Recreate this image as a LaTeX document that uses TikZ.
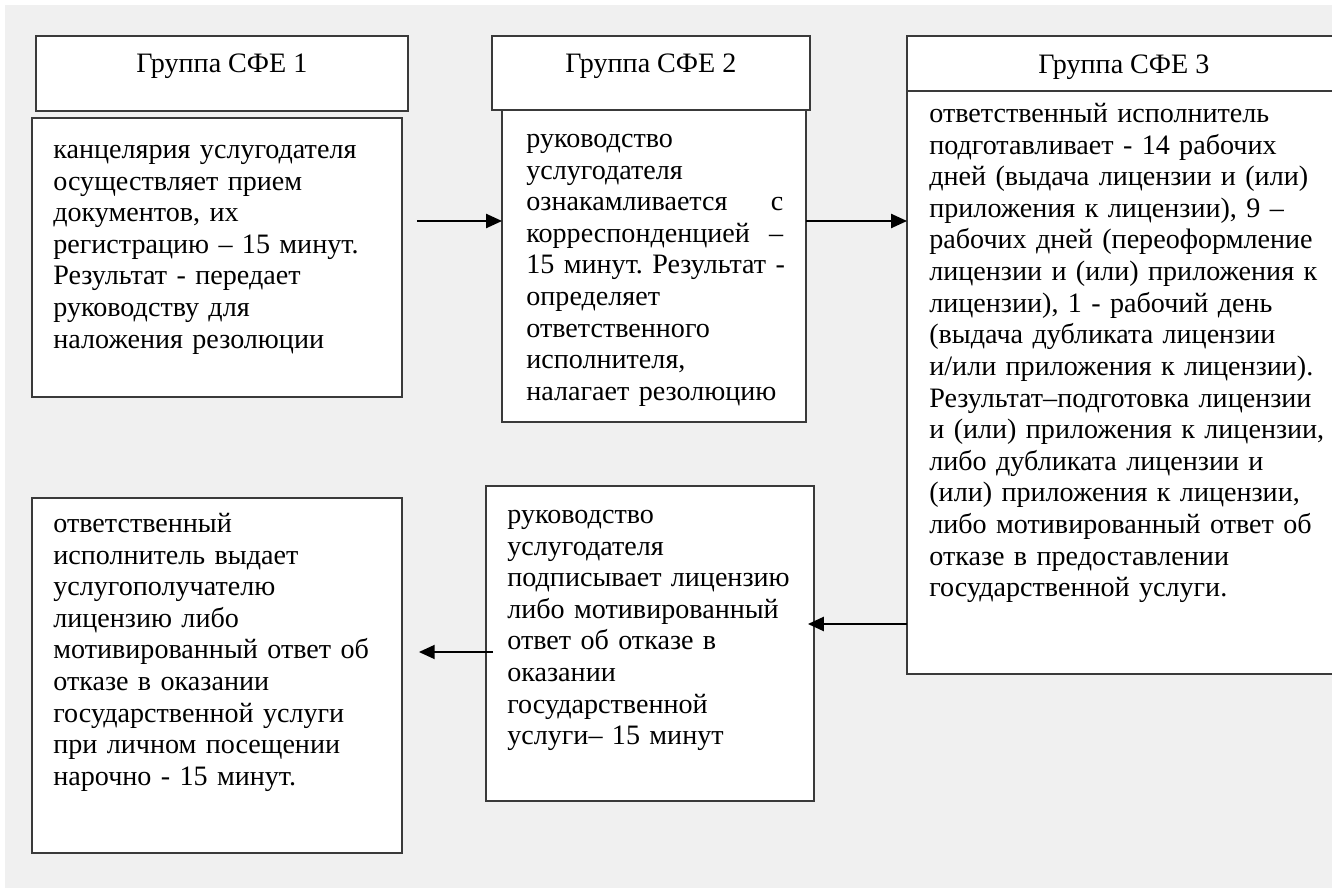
\documentclass[tikz,border=0pt]{standalone}
\usepackage{fontspec}
\setmainfont{Liberation Serif}
\usetikzlibrary{calc}
\usetikzlibrary{positioning}
\usetikzlibrary{arrows.meta}
\definecolor{pagegrey}{HTML}{F0F0F0}
\definecolor{framegrey}{HTML}{3A3A3A}
\frenchspacing

\begin{document}
\begin{tikzpicture}[x=0.02cm,y=-0.02cm,
    box/.style={draw=framegrey,line width=0.9pt,fill=white,inner sep=0pt,outer sep=0pt,anchor=north west},
    head/.style={anchor=base,inner sep=0pt,font=\fontsize{16}{18}\selectfont},
    txt/.style={anchor=north west,align=left,inner sep=0pt,text width=#1,font=\fontsize{16}{18}\selectfont},
    arr/.style={line width=1pt,-{Triangle[length=9pt,width=8pt]}}]

      \useasboundingbox (0,0) rectangle (1332,888);
      \clip (0,0) rectangle (1332,888);
      \fill[white] (0,0) rectangle (1332,888);
      \fill[pagegrey] (5,5) rectangle (1332,888);

      % first row
      \node[box,minimum width=7.40cm,minimum height=5.58cm] (b1) at (32,118) {};
      \node[box,minimum width=7.44cm,minimum height=1.50cm] (h1) at (36,36) {};
      \node[box,minimum width=6.08cm,minimum height=6.26cm] (b2) at (502,109) {};
      \node[box,minimum width=6.36cm,minimum height=1.48cm] (h2) at (492,36) {};
      \node[box,minimum width=8.76cm,minimum height=11.66cm] (b3) at (907,91) {};
      \node[box,minimum width=8.76cm,minimum height=1.10cm] (h3) at (907,36) {};

      % second row
      \node[box,minimum width=7.40cm,minimum height=7.10cm] (b4) at (32,498) {};
      \node[box,minimum width=6.56cm,minimum height=6.30cm] (b5) at (486,486) {};

      \node[head] (h1t) at ([yshift=-0.74cm]h1.north) {Группа СФЕ 1};
      \node[head] (h2t) at ([yshift=-0.74cm]h2.north) {Группа СФЕ 2};
      \node[head] (h3t) at ([xshift=-0.04cm,yshift=-0.76cm]h3.north) {Группа СФЕ 3};

      \node[txt=6.8cm] (t1) at ([xshift=0.42cm,yshift=-0.36cm]b1.north west)
        {\strut канцелярия услугодателя\\
         осуществляет прием\\
         документов, их\\
         регистрацию – 15 минут.\\
         Результат - передает\\
         руководству для\\
         наложения резолюции};
      \node[txt=5.14cm] (t2) at ([xshift=0.48cm,yshift=-0.32cm]b2.north west)
        {\strut руководство\\
         услугодателя\\
         ознакамливается\hfill с\\
         корреспонденцией\hfill –\\
         \mbox{15 минут. Результат -}\\
         определяет\\
         ответственного\\
         исполнителя,\\
         налагает резолюцию};
      \node[txt=8.2cm] (t3) at ([xshift=0.44cm,yshift=-0.18cm]b3.north west)
        {\strut ответственный исполнитель\\
         подготавливает - 14 рабочих\\
         дней (выдача лицензии и (или)\\
         приложения к лицензии), 9 –\\
         рабочих дней (переоформление\\
         лицензии и (или) приложения к\\
         лицензии), 1 - рабочий день\\
         (выдача дубликата лицензии\\
         и/или приложения к лицензии).\\
         Результат–подготовка лицензии\\
         и (или) приложения к лицензии,\\
         либо дубликата лицензии и\\
         (или) приложения к лицензии,\\
         либо мотивированный ответ об\\
         отказе в предоставлении\\
         государственной услуги.};
      \node[txt=6.8cm] (t4) at ([xshift=0.42cm,yshift=-0.24cm]b4.north west)
        {\strut ответственный\\
         исполнитель выдает\\
         услугополучателю\\
         лицензию либо\\
         мотивированный ответ об\\
         отказе в оказании\\
         государственной услуги\\
         при личном посещении\\
         нарочно - 15 минут.};
      \node[txt=6.2cm] (t5) at ([xshift=0.42cm,yshift=-0.30cm]b5.north west)
        {\strut руководство\\
         услугодателя\\
         подписывает лицензию\\
         либо мотивированный\\
         ответ об отказе в\\
         оказании\\
         государственной\\
         услуги– 15 минут};

      \coordinate (upper) at (0,221);
      \coordinate (lower) at (0,624);
      \coordinate (lowest) at (0,652);

      \draw[arr] ([xshift=0.30cm]b1.east |- upper) -- (b2.west |- upper);
      \draw[arr] (b2.east |- upper) -- (b3.west |- upper);
      \draw[arr] (b3.west |- lower) -- ([xshift=-0.12cm]b5.east |- lower);
      \draw[arr] ([xshift=0.14cm]b5.west |- lowest) -- ([xshift=0.34cm]b4.east |- lowest);
    \end{tikzpicture}
\end{document}
